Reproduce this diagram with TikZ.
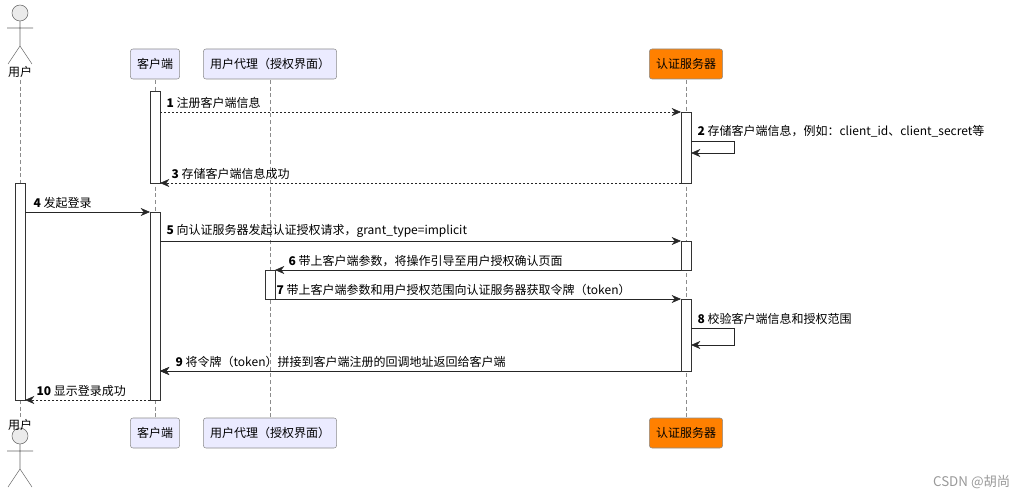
\documentclass[tikz,border=0pt]{standalone}
\usepackage{fontspec}
\setmainfont{Noto Sans CJK SC}
\usetikzlibrary{arrows.meta}
\begin{document}
\begin{tikzpicture}[x=0.75pt,y=-0.75pt,font=\fontsize{9}{10}\selectfont,
  part/.style={draw=black!45,rounded corners=2pt,fill=#1,minimum height=22.5pt,inner xsep=5pt},
  life/.style={draw=black!45,dash pattern=on 3pt off 2pt},
  act/.style={draw=black!80,fill=white},
  msg/.style={draw=black!85,-{Stealth[length=7pt,width=6pt]}},
  rmsg/.style={msg,dash pattern=on 1.5pt off 1.5pt},
  lab/.style={anchor=south west,inner sep=1pt}]
\useasboundingbox (0,0) rectangle (1021,499);
% lifelines
\draw[life] (20,80) -- (20,418);
\draw[life] (155,80) -- (155,418);
\draw[life] (270,80) -- (270,418);
\draw[life] (686,80) -- (686,418);
% actors
\foreach \y/\n in {0/ua,423/ub}{
 \draw[black!60,fill=black!8] (20,\y+13) circle (8);
 \draw[black!60] (20,\y+21) -- (20,\y+46) (7,\y+28) -- (33,\y+28) (20,\y+46) -- (8,\y+64) (20,\y+46) -- (32,\y+64);
}
\node (uname) at (20,72) {用户};
\node (uname2) at (20,425) {用户};
% participants
\node[part=blue!8] (c1) at (155,64) {客户端};
\node[part=blue!8] (p1) at (270,64) {用户代理（授权界面）};
\node[part=orange] (s1) at (686,64) {认证服务器};
\node[part=blue!8] (c2) at (155,433) {客户端};
\node[part=blue!8] (p2) at (270,433) {用户代理（授权界面）};
\node[part=orange] (s2) at (686,433) {认证服务器};
% activations
\draw[act] (150,91) rectangle (160,183);
\draw[act] (681,112) rectangle (691,183);
\draw[act] (15,183) rectangle (25,400);
\draw[act] (150,212) rectangle (160,400);
\draw[act] (681,241) rectangle (691,270);
\draw[act] (265,270) rectangle (275,299);
\draw[act] (681,299) rectangle (691,371);
% coordinates
\coordinate (a1) at (160,112); \coordinate (b1) at (681,112);
\coordinate (a3) at (681,183); \coordinate (b3) at (160,183);
\coordinate (a4) at (25,212); \coordinate (b4) at (150,212);
\coordinate (a5) at (160,241); \coordinate (b5) at (681,241);
\coordinate (a6) at (681,270); \coordinate (b6) at (275,270);
\coordinate (a7) at (275,299); \coordinate (b7) at (681,299);
\coordinate (a9) at (681,371); \coordinate (b9) at (160,371);
\coordinate (a10) at (150,400); \coordinate (b10) at (25,400);
% messages
\draw[rmsg] (a1) -- (b1);
\node[lab] at (165,110) {\textbf{1} 注册客户端信息};
\draw[msg] (691,141) -- (734,141) -- (734,153) -- (691,153);
\node[lab] at (696,139) {\textbf{2} 存储客户端信息，例如：client\_id、client\_secret等};
\draw[rmsg] (a3) -- (b3);
\node[lab] at (170,181) {\textbf{3} 存储客户端信息成功};
\draw[msg] (a4) -- (b4);
\node[lab] at (32,210) {\textbf{4} 发起登录};
\draw[msg] (a5) -- (b5);
\node[lab] at (165,239) {\textbf{5} 向认证服务器发起认证授权请求，grant\_type=implicit};
\draw[msg] (a6) -- (b6);
\node[lab] at (287,268) {\textbf{6} 带上客户端参数，将操作引导至用户授权确认页面};
\draw[msg] (a7) -- (b7);
\node[lab] at (275,297) {\textbf{7} 带上客户端参数和用户授权范围向认证服务器获取令牌（token）};
\draw[msg] (691,328) -- (734,328) -- (734,345) -- (691,345);
\node[lab] at (696,326) {\textbf{8} 校验客户端信息和授权范围};
\draw[rmsg] (a9) -- (b9);
\node[lab] at (174,369) {\textbf{9} 将令牌（token）拼接到客户端注册的回调地址返回给客户端};
\draw[msg] (a9) -- (b9);
\draw[rmsg] (a10) -- (b10);
\node[lab] at (35,398) {\textbf{10} 显示登录成功};
\node[text=black!40,anchor=east,font=\fontsize{10}{12}\selectfont] (wm) at (1015,482) {CSDN @胡尚};
\end{tikzpicture}
\end{document}
